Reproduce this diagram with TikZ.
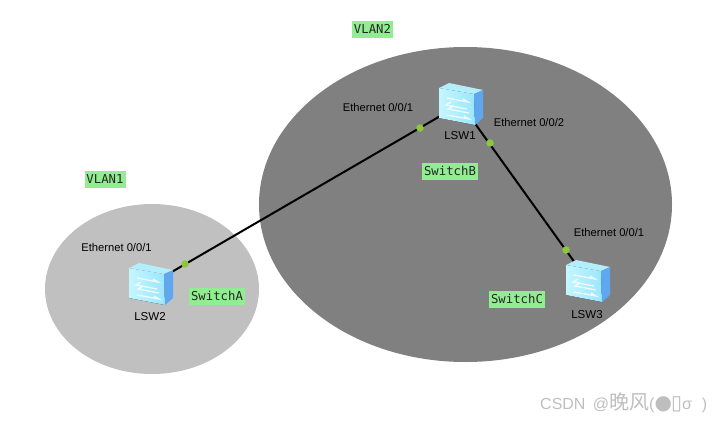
\documentclass[tikz,border=0pt]{standalone}
\usepackage{fontspec}
\setmainfont{Liberation Sans}
\newfontfamily\labelmono{DejaVu Sans Mono}
\newfontfamily\glyphfont{DejaVu Sans}
\newfontfamily\cjkfont{Noto Sans CJK SC}
\definecolor{vlanlight}{HTML}{C0C0C0}
\definecolor{vlandark}{HTML}{808080}
\definecolor{tagbg}{HTML}{90EE90}
\definecolor{portdot}{HTML}{8CC83C}
\definecolor{markgray}{HTML}{BEBEBE}
\definecolor{swfrontA}{HTML}{C4F6FF}
\definecolor{swfrontB}{HTML}{9BE6FC}
\definecolor{swtop}{HTML}{B4EEFC}
\definecolor{swside}{HTML}{5FA8F0}
\tikzset{
  x=1pt,y=-1pt,
  tag/.style={fill=tagbg,font=\labelmono\fontsize{12.3}{14}\selectfont,text=black!85,inner sep=0pt,minimum height=17,anchor=center},
  port/.style={font=\fontsize{11.2}{13}\selectfont,text=black,inner sep=0pt,anchor=center},
  devname/.style={font=\fontsize{11.5}{13}\selectfont,text=black,inner sep=0pt,anchor=center},
  dot/.style={circle,fill=portdot,inner sep=0pt,minimum size=7.5},
  link/.style={draw=black,line width=2},
  switchicon/.pic={
    \fill[left color=swfrontA,right color=swfrontB] (-22,-16) -- (13,-10) -- (14,21) -- (-22,14) -- cycle;
    \fill[swtop] (-22,-16) -- (-12,-21) -- (22,-14) -- (13,-10) -- cycle;
    \fill[swside] (13,-10) -- (22,-14) -- (22,14) -- (14,21) -- cycle;
    \draw[white,line width=1.3,opacity=.8] (-14,-6) -- (7,-2) -- (2,-5);
    \draw[white,line width=1.3,opacity=.8] (-10,-2) -- (-15,1) -- (6,5);
    \draw[white,line width=1.3,opacity=.8] (-8,2) -- (-13,5) -- (8,9);
    \draw[white,line width=1.3,opacity=.8] (-14,11) -- (8,15) -- (3,12);
  }
}
\begin{document}
\begin{tikzpicture}
\useasboundingbox (0,0) rectangle (722,423);
% VLAN regions
\fill[vlanlight] (152,289) ellipse [x radius=107,y radius=85];
\fill[vlandark] (465.5,204.5) ellipse [x radius=206.5,y radius=157.5];

% switch anchors
\node[inner sep=0pt,minimum size=0pt] (lswb) at (461,104) {};
\node[inner sep=0pt,minimum size=0pt] (lswa) at (151,284) {};
\node[inner sep=0pt,minimum size=0pt] (lswc) at (588,281) {};

% links and their port markers
\draw[link] (lswa.center) -- (lswb.center);
\draw[link] (lswb.center) -- (lswc.center);
\node[dot] (pa) at (185,264) {};
\node[dot] (pb1) at (420,128) {};
\node[dot] (pb2) at (490,143) {};
\node[dot] (pc) at (566,250) {};

% switches
\pic at (lswb) {switchicon};
\pic at (lswa) {switchicon};
\pic at (lswc) {switchicon};

% device names
\node[devname] (na) at (150,317) {LSW2};
\node[devname] (nb) at (460,136) {LSW1};
\node[devname] (nc) at (587,315) {LSW3};

% port labels
\node[port] (ta) at (116.5,247) {Ethernet 0/0/1};
\node[port] (tb1) at (378,107) {Ethernet 0/0/1};
\node[port] (tb2) at (529,122) {Ethernet 0/0/2};
\node[port] (tc) at (609,232) {Ethernet 0/0/1};

% green tags
\node[tag,minimum width=41] (v2) at (372.5,29) {VLAN2};
\node[tag,minimum width=41] (v1) at (105,179) {VLAN1};
\node[tag,minimum width=56] (sa) at (217,296) {SwitchA};
\node[tag,minimum width=56] (sb) at (450,171) {SwitchB};
\node[tag,minimum width=56] (sc) at (517,299) {SwitchC};

% attribution line
\node[inner sep=0pt,anchor=west,text=markgray,font=\fontsize{16}{18}\selectfont] (mark) at (540,403)
  {CSDN\kern3pt\ @{\cjkfont\fontsize{20}{20}\selectfont 晚风}({\glyphfont\fontsize{20}{20}\selectfont ●\kern-1pt ▯}σ\kern10pt )};
\end{tikzpicture}
\end{document}
